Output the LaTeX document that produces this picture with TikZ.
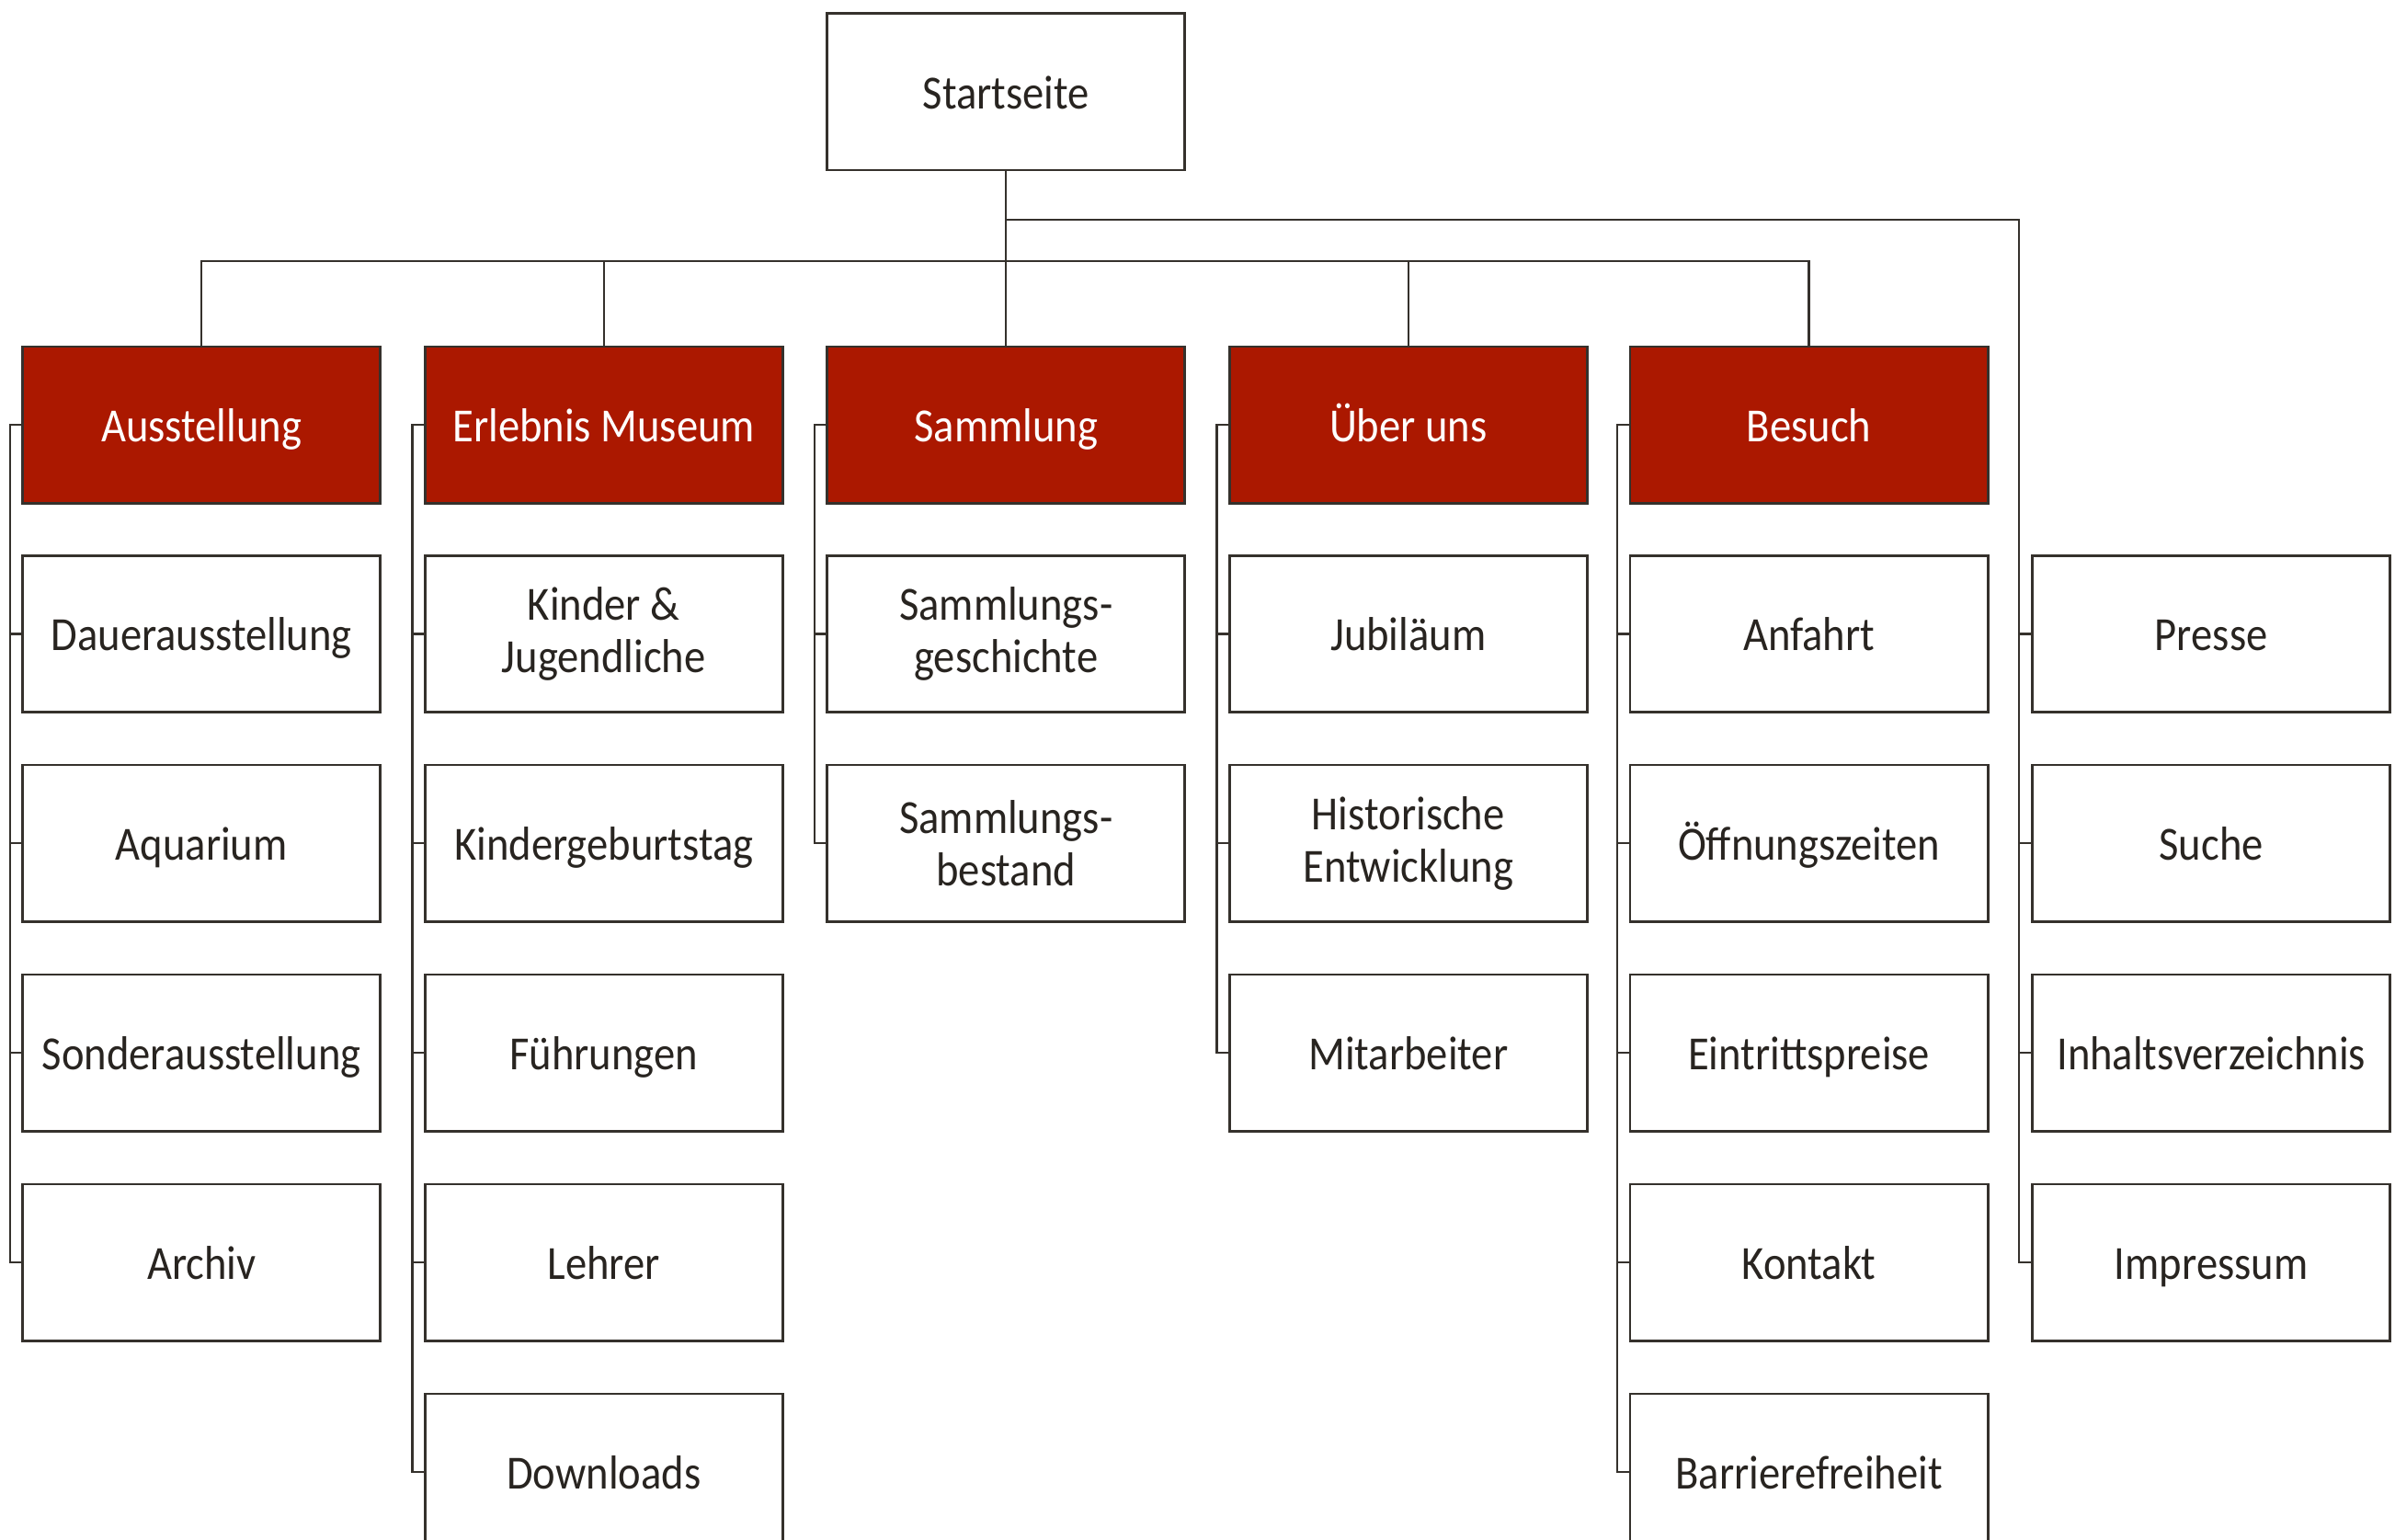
\documentclass[tikz,border=0pt]{standalone}
\usepackage{fontspec}
\setmainfont[FakeStretch=0.9]{Carlito}
\definecolor{hdr}{RGB}{171,24,0}
\definecolor{ln}{RGB}{53,49,44}
\definecolor{txt}{RGB}{40,36,32}
\begin{document}
\begin{tikzpicture}[x=0.5pt,y=-0.5pt,
  box/.style={draw=ln,line width=0.8pt,fill=white,minimum width=116.5pt,minimum height=51pt,
    anchor=north west,inner sep=0pt,align=center,font=\fontsize{15.5}{17}\selectfont,text=txt},
  one/.style={text height=13pt,text depth=2pt},
  hbox/.style={box,one,fill=hdr,text=white},
  conn/.style={draw=ln,line width=0.7pt}]
\useasboundingbox (0,0) rectangle (1560,1002.5);
% root
\node[box,one] (start) at (538,8) {Startseite};
% headers
\node[hbox] (h1) at (14,225) {Ausstellung};
\node[hbox] (h2) at (276,225) {Erlebnis Museum};
\node[hbox] (h3) at (538,225) {Sammlung};
\node[hbox] (h4) at (800,225) {Über uns};
\node[hbox] (h5) at (1061,225) {Besuch};
% column 1
\node[box,one] (a1) at (14,361) {Dauerausstellung};
\node[box,one] (a2) at (14,497.5) {Aquarium};
\node[box,one] (a3) at (14,634) {Sonderausstellung};
\node[box,one] (a4) at (14,770.5) {Archiv};
% column 2
\node[box] (b1) at (276,361) {Kinder \&\\Jugendliche};
\node[box,one] (b2) at (276,497.5) {Kindergeburtstag};
\node[box,one] (b3) at (276,634) {Führungen};
\node[box,one] (b4) at (276,770.5) {Lehrer};
\node[box,one] (b5) at (276,907) {Downloads};
% column 3
\node[box] (c1) at (538,361) {Sammlungs-\\geschichte};
\node[box] (c2) at (538,497.5) {Sammlungs-\\bestand};
% column 4
\node[box,one] (d1) at (800,361) {Jubiläum};
\node[box] (d2) at (800,497.5) {Historische\\Entwicklung};
\node[box,one] (d3) at (800,634) {Mitarbeiter};
% column 5
\node[box,one] (e1) at (1061,361) {Anfahrt};
\node[box,one] (e2) at (1061,497.5) {Öffnungszeiten};
\node[box,one] (e3) at (1061,634) {Eintrittspreise};
\node[box,one] (e4) at (1061,770.5) {Kontakt};
\node[box,one] (e5) at (1061,907) {Barrierefreiheit};
% column 6
\node[box,one] (f1) at (1323,361) {Presse};
\node[box,one] (f2) at (1323,497.5) {Suche};
\node[box,one] (f3) at (1323,634) {Inhaltsverzeichnis};
\node[box,one] (f4) at (1323,770.5) {Impressum};
% top connectors
\coordinate (j1) at (654.5,143);
\coordinate (j2) at (654.5,170);
\draw[conn] (start.south) -- (h3.north);
\draw[conn] (h1.north) |- (j2) -| (h5.north);
\draw[conn] (h2.north) -- (h2.north |- j2);
\draw[conn] (h4.north) -- (h4.north |- j2);
\draw[conn] (j1) -| ([xshift=-4pt]f4.west) -- (f4.west);
\foreach \n in {f1,f2,f3} \draw[conn] (\n.west) -- ++(-8,0);
% brackets
\draw[conn] (h1.west) -- ++(-7.5,0) |- (a4.west);
\foreach \n in {a1,a2,a3} \draw[conn] (\n.west) -- ++(-7.5,0);
\draw[conn] (h2.west) -- ++(-7.5,0) |- (b5.west);
\foreach \n in {b1,b2,b3,b4} \draw[conn] (\n.west) -- ++(-7.5,0);
\draw[conn] (h3.west) -- ++(-7.5,0) |- (c2.west);
\draw[conn] (c1.west) -- ++(-7.5,0);
\draw[conn] (h4.west) -- ++(-7.5,0) |- (d3.west);
\foreach \n in {d1,d2} \draw[conn] (\n.west) -- ++(-7.5,0);
\draw[conn] (h5.west) -- ++(-7.5,0) |- (e5.west);
\foreach \n in {e1,e2,e3,e4} \draw[conn] (\n.west) -- ++(-7.5,0);
\end{tikzpicture}
\end{document}
